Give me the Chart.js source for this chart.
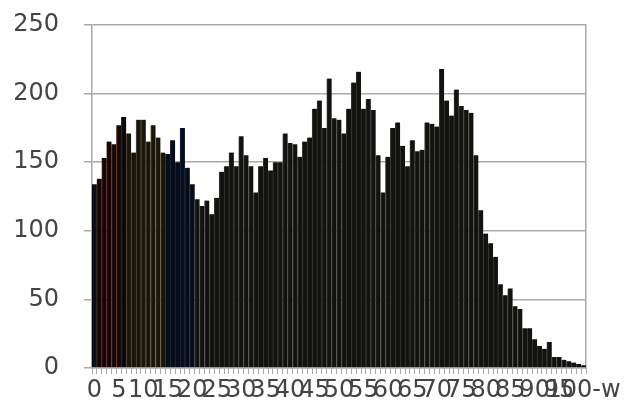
<!DOCTYPE html>
<html>
<head>
<meta charset="utf-8">
<script src="https://cdn.jsdelivr.net/npm/chart.js@4"></script>
<style>
  html, body { margin: 0; padding: 0; background: #fff; }
  #wrap { width: 624px; height: 412px; position: relative; }
</style>
</head>
<body>
<div id="wrap"><canvas id="c" width="624" height="412"></canvas></div>
<script>
// Categories: 0 .. 99 and the last open bin "100-w"
const categories = [];
for (let i = 0; i < 100; i++) categories.push(String(i));
categories.push('100-w');

// Bar heights
const values = [
  134, 138, 153, 165, 163, 177, 183, 171, 157, 181,
  181, 165, 177, 168, 157, 156, 166, 150, 175, 146,
  134, 123, 118, 122, 112, 124, 143, 147, 157, 147,
  169, 155, 147, 128, 147, 153, 144, 150, 150, 171,
  164, 163, 154, 165, 168, 189, 195, 175, 211, 182,
  181, 171, 189, 208, 216, 189, 196, 188, 155, 128,
  154, 175, 179, 162, 147, 166, 158, 159, 179, 178,
  176, 218, 195, 184, 203, 191, 188, 186, 155, 115,
  98, 91, 81, 61, 53, 58, 45, 43, 29, 29,
  21, 16, 14, 19, 8, 8, 6, 5, 4, 3,
  2
];

const yTicks = [0, 50, 100, 150, 200, 250];
const labelEvery = 5;

function barFill(i) {
  if (i === 0) return '#08101a';
  if (i <= 5) return '#160606';
  if (i === 6) return '#0a0a0a';
  if (i <= 14) return '#17150c';
  if (i <= 20) return '#050d1a';
  return '#121210';
}
function barEdge(i) {
  if (i === 0) return '#000000';
  if (i <= 5) return '#4a1414';
  if (i === 6) return '#2a2a2a';
  if (i <= 14) return '#5a5024';
  if (i <= 20) return '#1e2a3c';
  return '#3a3a2e';
}

const font = { family: 'DejaVu Sans', size: 24 };
const gridGray = '#a9a9a9';
const textGray = '#444444';

new Chart(document.getElementById('c'), {
  type: 'bar',
  data: {
    labels: categories,
    datasets: [{
      data: values,
      backgroundColor: values.map((v, i) => barFill(i)),
      borderColor: values.map((v, i) => barEdge(i)),
      borderWidth: { top: 0, left: 1, right: 0, bottom: 0 },
      borderSkipped: false,
      barPercentage: 1,
      categoryPercentage: 1
    }]
  },
  options: {
    responsive: false,
    animation: false,
    devicePixelRatio: 1,
    layout: { padding: { left: 12, right: 38, top: 25, bottom: 0 } },
    plugins: { legend: { display: false }, tooltip: { enabled: false } },
    scales: {
      x: {
        grid: { display: true, drawOnChartArea: false, drawTicks: true, tickLength: 6, color: gridGray, lineWidth: 1 },
        border: { display: true, color: gridGray, width: 1.5 },
        ticks: {
          autoSkip: false, maxRotation: 0, minRotation: 0,
          color: textGray, font: font, padding: 2,
          callback: function (val, idx) {
            return idx % labelEvery === 0 ? categories[idx] : '';
          }
        },
        afterFit: function (s) { s.height = 44; }
      },
      y: {
        min: 0, max: 250,
        afterBuildTicks: function (s) { s.ticks = yTicks.map(v => ({ value: v })); },
        grid: { color: gridGray, lineWidth: 1.5, tickLength: 8, drawTicks: true },
        border: { display: true, color: gridGray, width: 1.5 },
        ticks: { color: textGray, font: font, padding: 25 },
        afterFit: function (s) { s.width = 80; s.paddingTop = 15; s.paddingBottom = 15; }
      },
      y2: {
        position: 'right',
        min: 0, max: 250,
        grid: { drawOnChartArea: false, drawTicks: false },
        border: { display: true, color: gridGray, width: 1.5 },
        ticks: { display: false },
        afterFit: function (s) { s.width = 0; }
      }
    }
  }
});
</script>
</body>
</html>
